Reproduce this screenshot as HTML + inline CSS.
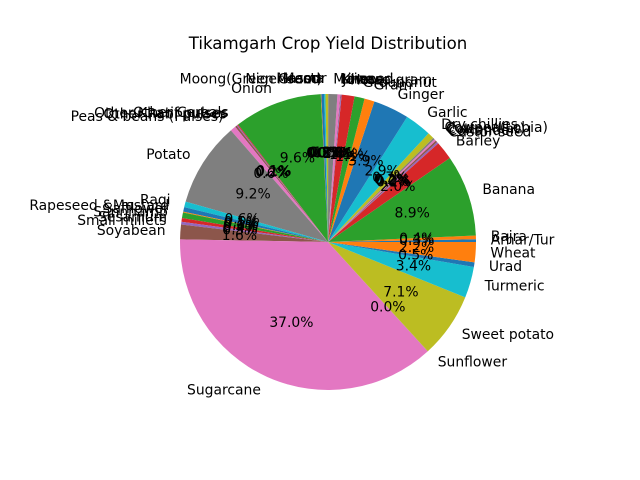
<!DOCTYPE html>
<html><head><meta charset="utf-8"><style>
html,body{margin:0;padding:0;background:#fff;}
svg{display:block;font-family:"DejaVu Sans","Liberation Sans",sans-serif;}
</style></head><body>
<svg id="chart" width="640" height="480" viewBox="0 0 640 480" xmlns="http://www.w3.org/2000/svg">
<rect width="640" height="480" fill="#fff"/>
<text x="328" y="49" text-anchor="middle" font-size="16.6" fill="#000">Tikamgarh Crop Yield Distribution</text>
<g id="slices"></g>
<g id="labels"></g>
<g id="pcts"></g>
</svg>
<script>
const crops = ["Arhar/Tur","Bajra","Banana","Barley","Castor seed","Coriander","Cotton(lint)","Cowpea(Lobia)","Dry chillies","Garlic","Ginger","Gram","Groundnut","Horse-gram","Jowar","Khesari","Linseed","Maize","Masoor","Mesta","Moong(Green Gram)","Niger seed","Onion","Other Cereals","Other Kharif pulses","Other Rabi pulses","Peas & beans (Pulses)","Potato","Ragi","Rapeseed &Mustard","Safflower","Sannhamp","Sesamum","Small millets","Soyabean","Sugarcane","Sunflower","Sweet potato","Turmeric","Urad","Wheat"];
const yields = [0.3,0.4,8.9,2.0,0.2,0.2,0.2,0.2,0.7,2.9,3.9,1.1,1.1,1.4,0.1,0.05,0.3,1.0,0.3,0.15,0.3,0.05,9.6,0.1,0.1,0.2,0.6,9.2,0.6,0.5,0.1,0.6,0.4,0.3,1.6,37.0,0.02,7.1,3.4,0.5,2.2];
const sliceColors = ["#1f77b4","#ff7f0e","#2ca02c","#d62728","#9467bd","#8c564b","#e377c2","#7f7f7f","#bcbd22","#17becf","#1f77b4","#ff7f0e","#2ca02c","#d62728","#9467bd","#8c564b","#e377c2","#7f7f7f","#bcbd22","#17becf","#1f77b4","#ff7f0e","#2ca02c","#d62728","#9467bd","#8c564b","#e377c2","#7f7f7f","#17becf","#1f77b4","#ff7f0e","#2ca02c","#d62728","#9467bd","#8c564b","#e377c2","#7f7f7f","#bcbd22","#17becf","#1f77b4","#ff7f0e"];

const NS = "http://www.w3.org/2000/svg";
const cx = 328, cy = 242, R = 148;
const total = yields.reduce((a,b)=>a+b,0);
const gS = document.getElementById('slices');
const gL = document.getElementById('labels');
const gP = document.getElementById('pcts');
function pt(deg, r){ const a = deg*Math.PI/180; return [cx + r*Math.cos(a), cy - r*Math.sin(a)]; }
let start = 0;
yields.forEach((v,i)=>{
  const sweep = v/total*360;
  const end = start + sweep;
  const [x1,y1] = pt(start,R), [x2,y2] = pt(end,R);
  const large = sweep>180?1:0;
  const p = document.createElementNS(NS,'path');
  p.setAttribute('d',`M${cx},${cy} L${x1},${y1} A${R},${R} 0 ${large} 0 ${x2},${y2} Z`);
  p.setAttribute('fill', sliceColors[i]);
  
  
  gS.appendChild(p);
  const mid = start + sweep/2;
  const [lx,ly] = pt(mid, R*1.1);
  const t = document.createElementNS(NS,'text');
  t.setAttribute('x', lx); t.setAttribute('y', ly);
  t.setAttribute('font-size','13.9'); t.setAttribute('dominant-baseline','central');
  t.setAttribute('text-anchor', Math.cos(mid*Math.PI/180) >= 0 ? 'start' : 'end');
  t.textContent = crops[i];
  
  
  gL.appendChild(t);
  const [px,py] = pt(mid, R*0.6);
  const q = document.createElementNS(NS,'text');
  q.setAttribute('x', px); q.setAttribute('y', py);
  q.setAttribute('font-size','13.9'); q.setAttribute('dominant-baseline','central');
  q.setAttribute('text-anchor','middle');
  q.textContent = (v/total*100).toFixed(1) + '%';
  
  
  gP.appendChild(q);
  start = end;
});
</script>
</body></html>
